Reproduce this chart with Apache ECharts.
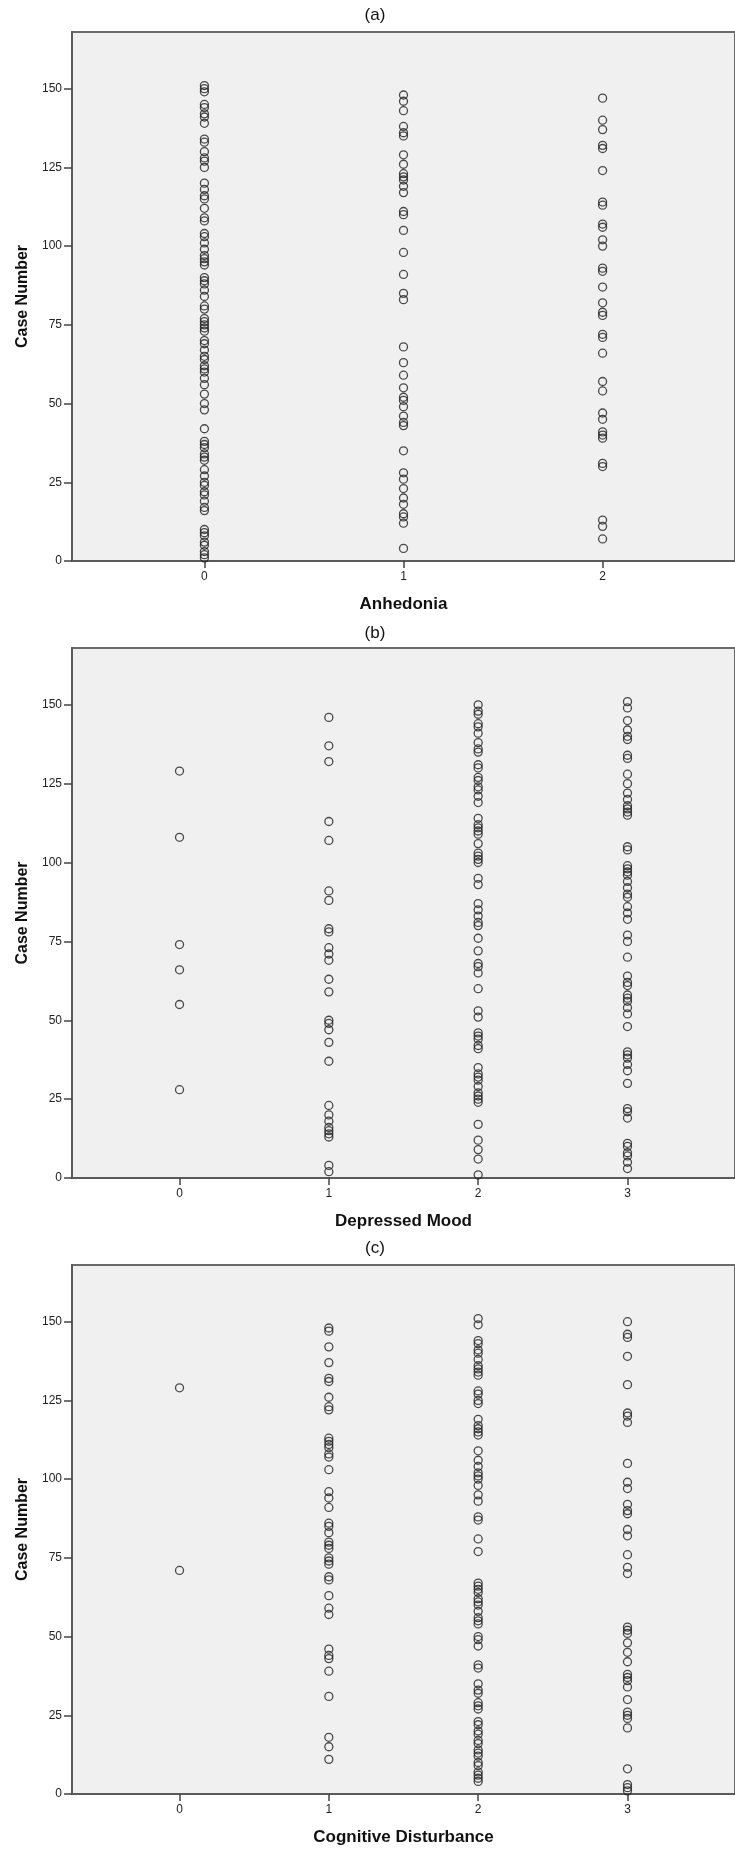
<!DOCTYPE html>
<html>
<head>
<meta charset="utf-8">
<script src="https://cdn.jsdelivr.net/npm/echarts/dist/echarts.min.js"></script>
<style>
  html, body { margin: 0; padding: 0; background: #ffffff; }
  #chart { width: 735px; height: 1850px; }
</style>
</head>
<body>
<div id="chart"></div>
<script>
// ---------- data (case numbers) ----------
const yTicks = [0, 25, 50, 75, 100, 125, 150];

const anhedoniaCats = [0, 1, 2];
const anhedonia0 = [1,2,3,5,6,8,9,10,16,17,19,21,22,24,25,27,29,32,33,34,36,37,38,42,48,50,53,56,58,60,61,62,64,65,67,69,70,73,74,75,76,77,80,81,84,86,88,89,90,94,95,96,97,99,101,103,104,108,109,112,115,116,118,120,125,127,128,130,133,134,139,141,142,144,145,149,150,151];
const anhedonia1 = [148,146,143,138,136,135,129,126,123,122,121,119,117,111,110,105,98,91,85,83,68,63,59,55,52,51,49,46,44,43,35,28,26,23,20,18,15,14,12,4];
const anhedonia2 = [147,140,137,132,131,124,114,113,107,106,102,100,93,92,87,82,79,78,72,71,66,57,54,47,45,41,40,39,31,30,13,11,7];

const depressedCats = [0, 1, 2, 3];
const depressed0 = [129,108,74,66,55,28];
const depressed1 = [146,137,132,113,107,91,88,79,78,73,71,69,63,59,50,49,47,43,37,23,20,18,16,15,14,13,4,2];
const depressed2 = [1,6,9,12,17,24,25,26,27,29,31,32,33,35,41,42,44,45,46,51,53,60,65,67,68,72,76,80,81,83,85,87,93,95,100,101,102,103,106,109,110,111,112,114,119,121,123,124,126,127,130,131,135,136,138,141,143,144,147,148,150];
const depressed3 = [151,149,145,142,140,139,134,133,128,125,122,120,118,117,116,115,105,104,99,98,97,96,94,92,90,89,86,84,82,77,75,70,64,62,61,58,57,56,54,52,48,40,39,38,36,34,30,22,21,19,11,10,8,7,5,3];

const cognitiveCats = [0, 1, 2, 3];
const cognitive0 = [129,71];
const cognitive1 = [148,147,142,137,132,131,126,123,122,113,112,111,110,108,107,103,96,94,91,86,85,83,80,79,78,75,74,73,69,68,63,59,57,46,44,43,39,31,18,15,11];
const cognitive2 = [4,5,6,7,9,10,12,13,14,16,17,19,20,22,23,27,28,29,32,33,35,40,41,47,49,50,54,55,56,58,60,61,62,64,65,66,67,77,81,87,88,93,95,98,100,101,102,104,106,109,114,115,116,117,119,124,125,127,128,133,134,135,136,138,140,141,143,144,149,151];
const cognitive3 = [150,146,145,139,130,121,120,118,105,99,97,92,90,89,84,82,76,72,70,53,52,51,48,45,42,38,37,36,34,30,26,25,24,21,8,3,2,1];

const panelLabels = ['(a)', '(b)', '(c)'];
const axisTitles = ['Anhedonia', 'Depressed Mood', 'Cognitive Disturbance'];
const yTitle = 'Case Number';

// ---------- layout ----------
const FONT = "'Liberation Sans', Arial, Helvetica, sans-serif";
const panels = [
  { cats: anhedoniaCats, cols: [anhedonia0, anhedonia1, anhedonia2], top: 32, height: 529, pad: 0.665, labelY: 15 },
  { cats: depressedCats, cols: [depressed0, depressed1, depressed2, depressed3], top: 648, height: 530, pad: 0.72, labelY: 633 },
  { cats: cognitiveCats, cols: [cognitive0, cognitive1, cognitive2, cognitive3], top: 1265, height: 529, pad: 0.72, labelY: 1248 }
];

const grid = [], xAxis = [], yAxis = [], series = [], graphic = [];
panels.forEach((p, i) => {
  grid.push({
    left: 72, top: p.top, width: 672, height: p.height,
    show: true, backgroundColor: '#f0f0f0', borderColor: '#6a6a6a', borderWidth: 2
  });
  xAxis.push({
    gridIndex: i, type: 'value',
    min: -p.pad, max: (p.cats.length - 1) + p.pad,
    axisLine: { show: true, onZero: false, lineStyle: { color: '#5a5a5a', width: 2 } },
    axisTick: { show: true, customValues: p.cats, length: 7, lineStyle: { color: '#444', width: 1.5 } },
    axisLabel: { customValues: p.cats, margin: 10, fontSize: 12, color: '#222', fontFamily: FONT },
    splitLine: { show: false },
    name: axisTitles[i], nameLocation: 'middle', nameGap: 35,
    nameTextStyle: { fontSize: 17, fontWeight: 'bold', color: '#111', fontFamily: FONT }
  });
  yAxis.push({
    gridIndex: i, type: 'value', min: 0, max: 168,
    axisLine: { show: true, onZero: false, lineStyle: { color: '#5a5a5a', width: 2 } },
    axisTick: { show: true, customValues: yTicks, length: 8, lineStyle: { color: '#444', width: 1.5 } },
    axisLabel: { customValues: yTicks, margin: 10, fontSize: 12, color: '#222', fontFamily: FONT },
    splitLine: { show: false },
    name: yTitle, nameLocation: 'middle', nameRotate: 90, nameGap: 41,
    nameTextStyle: { fontSize: 16, fontWeight: 'bold', color: '#111', fontFamily: FONT }
  });
  p.cols.forEach((col, k) => {
    series.push({
      type: 'scatter', xAxisIndex: i, yAxisIndex: i, silent: true,
      symbol: 'circle', symbolSize: 8,
      itemStyle: { color: 'rgba(0,0,0,0)', borderColor: '#1e1e1e', borderWidth: 1.3 },
      data: col.map(v => [p.cats[k], v])
    });
  });
  graphic.push({
    type: 'text', x: 375, y: p.labelY, silent: true,
    style: { text: panelLabels[i], fontSize: 17, fontFamily: FONT, fill: '#111',
             align: 'center', verticalAlign: 'middle', textAlign: 'center', textVerticalAlign: 'middle' }
  });
});

const chart = echarts.init(document.getElementById('chart'), null, { renderer: 'canvas' });
chart.setOption({
  animation: false,
  backgroundColor: '#ffffff',
  grid, xAxis, yAxis, series, graphic
});
</script>
</body>
</html>
